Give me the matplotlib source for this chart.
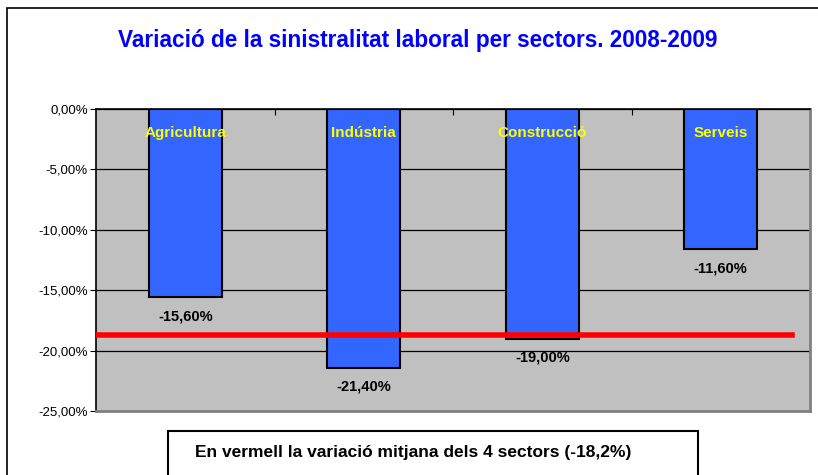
import matplotlib
matplotlib.use("Agg")
import matplotlib.pyplot as plt
from matplotlib.patches import Rectangle
from matplotlib.ticker import FuncFormatter

plt.rcParams['font.family'] = ['Liberation Sans', 'DejaVu Sans']

sectors = ["Agricultura", "Indústria", "Construcció", "Serveis"]
variation = [-15.6, -21.4, -19.0, -11.6]
value_labels = ["-15,60%", "-21,40%", "-19,00%", "-11,60%"]
mean_line = -18.7  # red line as drawn in the picture
title = "Variació de la sinistralitat laboral per sectors. 2008-2009"
note = "En vermell la variació mitjana dels 4 sectors (-18,2%)"

fig = plt.figure(figsize=(8.18, 4.75), dpi=100)
fig.patch.set_facecolor("white")

# outer chart border (cut off at right and bottom)
fig.patches.append(Rectangle((7 / 818, -0.1), 1.2, 1 - 8 / 475 + 0.1,
                             transform=fig.transFigure, fill=False,
                             edgecolor="black", lw=1.2))

ax = fig.add_axes([96 / 818, 1 - 411 / 475, 714 / 818, 302 / 475])
ax.set_facecolor("#C0C0C0")

x = list(range(len(sectors)))
ax.bar(x, variation, width=0.41, color="#3366FF", edgecolor="black",
       linewidth=1.5, zorder=3)

ax.set_xlim(-0.5, 3.5)
ax.set_ylim(-25, 0)
ax.set_yticks([0, -5, -10, -15, -20, -25])
ax.yaxis.set_major_formatter(FuncFormatter(lambda v, p: ("%.2f%%" % v).replace(".", ",")))
ax.tick_params(axis="y", labelsize=9.5, length=4, color="black", pad=2)
ax.grid(axis="y", color="black", lw=0.9, zorder=1)

# category ticks at top (axis crossing at 0)
ax.set_xticks([0.5, 1.5, 2.5])
ax.set_xticklabels([])
ax.tick_params(axis="x", top=True, bottom=False, direction="in", length=4)

for s in ["top", "left"]:
    ax.spines[s].set_color("black")
    ax.spines[s].set_linewidth(1.2)
for s in ["right", "bottom"]:
    ax.spines[s].set_color("#808080")
    ax.spines[s].set_linewidth(2)

ax.plot([-0.49, 3.4], [mean_line, mean_line], color="#FF0000", lw=4, zorder=4)

for i, (v, lab) in enumerate(zip(variation, value_labels)):
    ax.text(i, v - 1.0, lab, ha="center", va="top", fontsize=10.5,
            fontweight="bold", color="black", zorder=5)
    ax.text(i, -2.0, sectors[i], ha="center", va="center", fontsize=11,
            fontweight="bold", color="#FFFF00", zorder=5)

fig.text(0.511, 1 - 40 / 475, title, ha="center", va="center",
         fontsize=16.3, fontweight="bold", color="#0000FF")

fig.patches.append(Rectangle((168 / 818, -0.1), 530 / 818, 0.1 + 1 - 431 / 475,
                             transform=fig.transFigure, fill=False,
                             edgecolor="black", lw=1.5))
fig.text(413 / 818, 1 - 452 / 475, note, ha="center", va="center",
         fontsize=12.5, fontweight="bold", color="black")

fig.savefig("out.png", dpi=100)
